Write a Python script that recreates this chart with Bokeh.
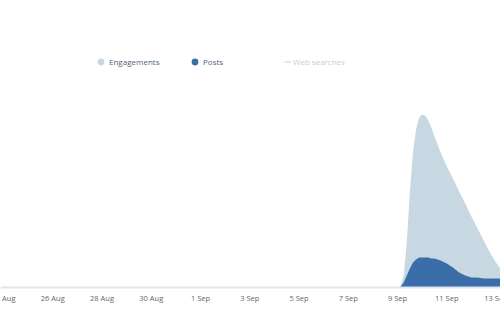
from datetime import datetime
import pandas as pd
from bokeh.plotting import figure
from bokeh.models import (Range1d, Legend, LegendItem, ColumnDataSource, Span)
from bokeh.core.properties import value
from bokeh.embed import file_html
from bokeh.resources import INLINE

# ---- data (arbitrary units) ----
times = ["2017-08-20 00:00", "2017-09-09 00:00", "2017-09-09 03:00", "2017-09-09 06:00",
         "2017-09-09 09:00", "2017-09-09 12:00", "2017-09-09 15:00", "2017-09-09 18:00",
         "2017-09-09 21:00", "2017-09-10 00:00", "2017-09-10 03:00", "2017-09-10 06:00",
         "2017-09-10 09:00", "2017-09-10 12:00", "2017-09-10 18:00", "2017-09-11 00:00",
         "2017-09-11 06:00", "2017-09-11 12:00", "2017-09-11 18:00", "2017-09-12 00:00",
         "2017-09-12 06:00", "2017-09-12 12:00", "2017-09-12 18:00", "2017-09-13 00:00",
         "2017-09-13 06:00"]
engagements = [0, 0, 1, 12, 45, 95, 135, 158, 170, 173, 172, 167, 160, 151, 135, 121,
               109, 96, 84, 71, 59, 47, 35, 25, 16]
posts = [0, 0, 1, 5, 12, 19, 25, 28, 30, 30, 30, 30, 29, 29, 27, 24,
         20, 15, 12, 10, 10, 9, 9, 9, 9]
tick_dates = ["2017-08-24", "2017-08-26", "2017-08-28", "2017-08-30", "2017-09-01",
              "2017-09-03", "2017-09-05", "2017-09-07", "2017-09-09", "2017-09-11",
              "2017-09-13"]
tick_labels = ["24 Aug", "26 Aug", "28 Aug", "30 Aug", "1 Sep", "3 Sep", "5 Sep",
               "7 Sep", "9 Sep", "11 Sep", "13 Sep"]
series_names = ["Engagements", "Posts", "Web searches"]
series_colors = ["#c8d8e3", "#3b6ea8", "#cccccc"]

src = ColumnDataSource(dict(t=pd.to_datetime(times), eng=engagements, posts=posts,
                            zero=[0] * len(times)))
tick_src = ColumnDataSource(dict(t=pd.to_datetime(tick_dates), lab=tick_labels,
                                 y=[-10] * len(tick_dates)))

FONT = "Open Sans"

p = figure(width=500, height=330, x_axis_location=None, y_axis_location=None,
           output_backend="svg", toolbar_location=None,
           min_border_left=0, min_border_right=0, min_border_top=0, min_border_bottom=0,
           x_range=Range1d(datetime(2017, 8, 23, 21, 5), datetime(2017, 9, 13, 4, 20)),
           y_range=Range1d(-43, 287))
p.outline_line_color = None
p.grid.visible = False
p.background_fill_color = "white"
p.border_fill_color = "white"

p.varea(x="t", y1="zero", y2="eng", source=src, fill_color=series_colors[0])
p.varea(x="t", y1="zero", y2="posts", source=src, fill_color=series_colors[1])

# baseline (x axis line)
p.add_layout(Span(location=0, dimension="width", line_color="#dde7f1", line_width=2))

# x tick labels
p.text(x="t", y="y", text="lab", source=tick_src, text_font=value(FONT),
       text_font_size="7.5px", text_color="#666666", text_align="center",
       text_baseline="middle")

# legend proxies (one point outside the visible range)
far = ColumnDataSource(dict(x=[datetime(2017, 1, 1)], y=[-1000]))
r_eng = p.scatter("x", "y", source=far, size=7, marker="circle",
                  fill_color=series_colors[0], line_color=None)
r_posts = p.scatter("x", "y", source=far, size=7, marker="circle",
                    fill_color=series_colors[1], line_color=None)
r_web = p.line("x", "y", source=far, line_color=series_colors[2], line_width=1)

legend_x = [92, 186, 284]
glyph_w = [17, 17, 7]
standoffs = [-2, -2, 2]
label_cols = ["#4f6276", "#4f6276", "#cccccc"]
for rend, name, lx, gw, so, col in zip([r_eng, r_posts, r_web], series_names, legend_x,
                                       glyph_w, standoffs, label_cols):
    lg = Legend(items=[LegendItem(label=name, renderers=[rend])], location=(lx, 260),
                orientation="horizontal", padding=0, margin=0, spacing=0,
                glyph_width=gw, glyph_height=17, label_height=17, label_standoff=so,
                label_text_font=FONT, label_text_font_size="8px",
                label_text_color=col, border_line_color=None,
                background_fill_alpha=0)
    p.add_layout(lg, "center")

open("out.html", "w").write(file_html(p, INLINE))
